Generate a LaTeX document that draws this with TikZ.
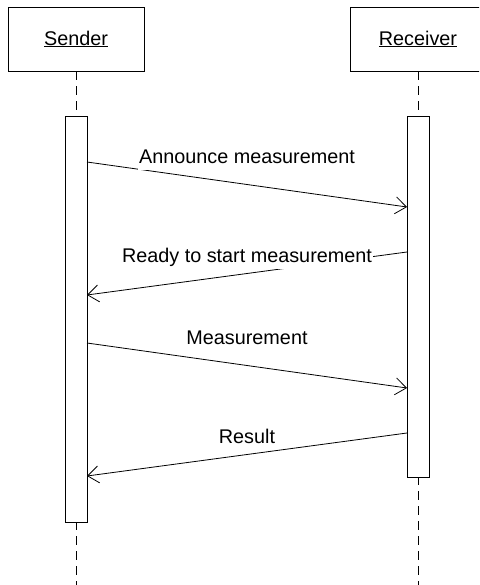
\documentclass[tikz,border=0pt]{standalone}
\usepackage{fontspec}
\setmainfont{Liberation Sans}
\usetikzlibrary{arrows.meta}
\begin{document}
\begin{tikzpicture}[x=1pt,y=-1pt,
  font=\fontsize{19.8}{22}\selectfont,
  actor/.style={draw=black,line width=0.9pt,fill=white,minimum width=136pt,minimum height=64pt,inner sep=0pt},
  actbar/.style={draw=black,line width=0.9pt,fill=white,minimum width=22pt,inner sep=0pt},
  lifeline/.style={draw=black,line width=0.9pt,dash pattern=on 9pt off 6pt},
  msg/.style={draw=black,line width=0.8pt,-{Straight Barb[length=11pt,width=17pt,line width=0.8pt]}},
  msglabel/.style={fill=white,inner xsep=1pt,inner ysep=1pt,text height=15pt,text depth=5pt,anchor=base}]
\useasboundingbox (0,0) rectangle (479,585);
\clip (0,0) rectangle (479,585);
% actors
\node[actor] (s) at (76,39) {\underline{Sender}};
\node[actor] (r) at (418,39) {\underline{Receiver}};
\coordinate (sbot) at (76,586);
\coordinate (rbot) at (418,586);
\draw[lifeline] (s.south) -- (sbot);
\draw[lifeline] (r.south) -- (rbot);
% activation bars
\node[actbar,minimum height=406pt] (sa) at (76,319) {};
\node[actbar,minimum height=361pt] (ra) at (418,296.5) {};
% message end points
\coordinate (a1) at (87,162);  \coordinate (b1) at (407,207);
\coordinate (a2) at (407,252); \coordinate (b2) at (87,295);
\coordinate (a3) at (87,343);  \coordinate (b3) at (407,388);
\coordinate (a4) at (407,433); \coordinate (b4) at (87,476);
\draw[msg] (a1) -- (b1);
\draw[msg] (a2) -- (b2);
\draw[msg] (a3) -- (b3);
\draw[msg] (a4) -- (b4);
% labels
\node[msglabel] (l1) at (247,164) {Announce measurement};
\node[msglabel] (l2) at (247,262.5) {Ready to start measurement};
\node[msglabel] (l3) at (247,344) {Measurement};
\node[msglabel] (l4) at (247,443) {Result};
\end{tikzpicture}
\end{document}
